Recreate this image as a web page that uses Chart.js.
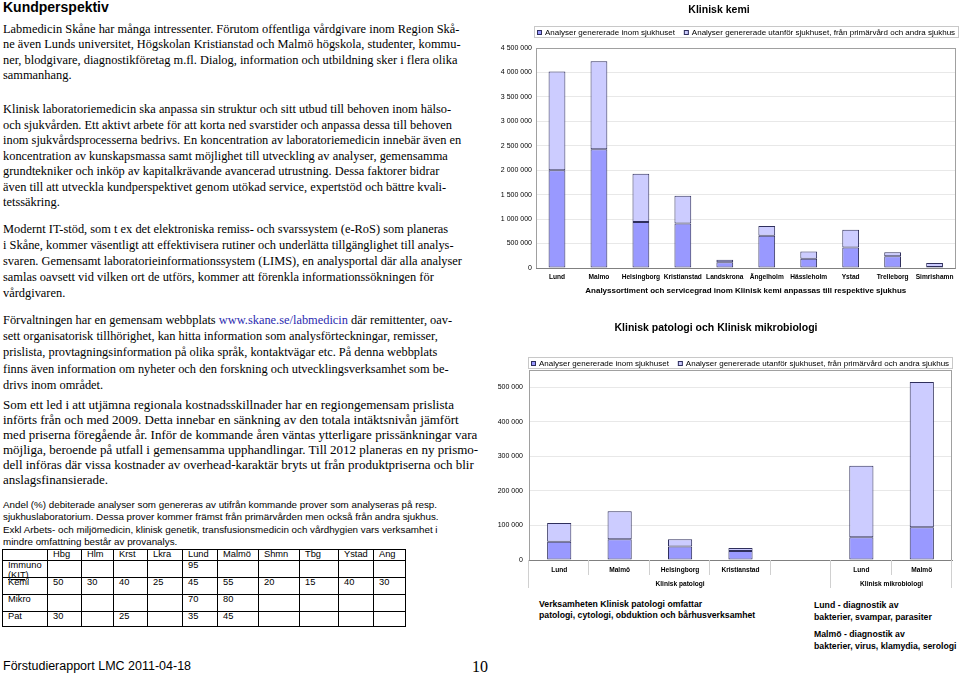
<!DOCTYPE html>
<html>
<head>
<meta charset="utf-8">
<script src="https://cdn.jsdelivr.net/npm/chart.js@4.4.1/dist/chart.umd.min.js"></script>
<style>
html, body { margin: 0; padding: 0; background: #fff; }
body { width: 959px; height: 673px; position: relative; overflow: hidden; color: #000; }
.ln { position: absolute; height: 20px; line-height: 20px; white-space: nowrap; }
.serif { font-family: "Liberation Serif", "Times New Roman", serif; font-size: 12.4px; }
.serif-big { font-family: "Liberation Serif", "Times New Roman", serif; font-size: 13px; }
.sans-small { font-family: "Liberation Sans", Arial, sans-serif; font-size: 9.8px; }
.note { font-family: "Liberation Sans", Arial, sans-serif; font-size: 8.7px; font-weight: bold; }
.link { color: #2b2bb0; }
h1 { position: absolute; left: 3px; top: 0; margin: 0; font: bold 14px "Liberation Sans", Arial, sans-serif; line-height: 15px; }
#tbl { position: absolute; left: 2px; top: 549px; border-collapse: collapse; table-layout: fixed; width: 403px;
  font-family: "Liberation Sans", Arial, sans-serif; font-size: 9.3px; }
#tbl td { border: 1px solid #000; padding: 0 0 0 5px; vertical-align: top; line-height: 9.5px; overflow: visible; white-space: nowrap; }
.cell { height: 0; overflow: visible; }
.box { position: absolute; }
#footer { position: absolute; left: 3px; top: 657px; font: 12.5px "Liberation Sans", Arial, sans-serif; line-height: 18px; }
#page { position: absolute; left: 472px; top: 657px; font: 16px "Liberation Serif", "Times New Roman", serif; line-height: 20px; }
</style>
</head>
<body>

<h1>Kundperspektiv</h1>

<div class="box" style="left:480px;top:0;width:479px;height:300px"><canvas id="kemi"></canvas></div>
<div class="box" style="left:480px;top:300px;width:479px;height:290px"><canvas id="patMikro"></canvas></div>

<table id="tbl">
  <colgroup>
    <col style="width:45px"><col style="width:34px"><col style="width:32px"><col style="width:34px">
    <col style="width:35px"><col style="width:35px"><col style="width:41px"><col style="width:41px">
    <col style="width:39px"><col style="width:35px"><col style="width:32px">
  </colgroup>
  <tbody id="tblBody"></tbody>
</table>

<div id="footer">Förstudierapport LMC 2011-04-18</div>
<div id="page">10</div>

<script>
// Klinisk kemi
const kemiHospitals = ['Lund', 'Malmo', 'Helsingborg', 'Kristianstad', 'Landskrona', 'Ängelholm', 'Hässleholm', 'Ystad', 'Trelleborg', 'Simrishamn'];
const kemiInside = [2000000, 2430000, 940000, 910000, 120000, 660000, 190000, 420000, 240000, 20000];
const kemiOutside = [2020000, 1800000, 990000, 570000, 50000, 200000, 150000, 360000, 80000, 80000];
const kemiMax = 4500000;
const kemiStep = 500000;

// Klinisk patologi och Klinisk mikrobiologi
const patMikroSites = ['Lund', 'Malmö', 'Helsingborg', 'Kristianstad', '', 'Lund', 'Malmö'];
const patMikroGroups = ['Klinisk patologi', 'Klinisk mikrobiologi'];
const patMikroGroupSizes = [5, 2];
const patMikroInside = [53000, 60000, 39000, 26000, null, 66000, 95000];
const patMikroOutside = [54000, 81000, 21000, 9000, null, 207000, 420000];
const patMikroMax = 550000;
const patMikroTicks = [0, 100000, 200000, 300000, 400000, 500000];

const legendInside = 'Analyser genererade inom sjukhuset';
const legendOutside = 'Analyser genererade utanför sjukhuset, från primärvård och andra sjukhus';

// tabell: andel (%) debiterade analyser
const tableCols = ['Hbg', 'Hlm', 'Krst', 'Lkra', 'Lund', 'Malmö', 'Shmn', 'Tbg', 'Ystad', 'Äng'];
const tableRows = ['Immuno (KIT)', 'Kemi', 'Mikro', 'Pat'];
const tableImmuno = ['', '', '', '', '95', '', '', '', '', ''];
const tableKemi = ['50', '30', '40', '25', '45', '55', '20', '15', '40', '30'];
const tableMikro = ['', '', '', '', '70', '80', '', '', '', ''];
const tablePat = ['30', '', '25', '', '35', '45', '', '', '', ''];

// textblock, rad för rad som i originalet
function placeLines(lines, left, firstCenter, step, cls) {
  lines.forEach((t, i) => {
    const d = document.createElement('div');
    d.className = 'ln ' + cls;
    d.style.left = left + 'px';
    d.style.top = (firstCenter + i * step - 10) + 'px';
    d.innerHTML = t;
    document.body.appendChild(d);
  });
}

placeLines([
  'Labmedicin Skåne har många intressenter. Förutom offentliga vårdgivare inom Region Skå-',
  'ne även Lunds universitet, Högskolan Kristianstad och Malmö högskola, studenter, kommu-',
  'ner, blodgivare, diagnostikföretag m.fl. Dialog, information och utbildning sker i flera olika',
  'sammanhang.'
], 3, 29, 15.4, 'serif');

placeLines([
  'Klinisk laboratoriemedicin ska anpassa sin struktur och sitt utbud till behoven inom hälso-',
  'och sjukvården. Ett aktivt arbete för att korta ned svarstider och anpassa dessa till behoven',
  'inom sjukvårdsprocesserna bedrivs. En koncentration av laboratoriemedicin innebär även en',
  'koncentration av kunskapsmassa samt möjlighet till utveckling av analyser, gemensamma',
  'grundtekniker och inköp av kapitalkrävande avancerad utrustning. Dessa faktorer bidrar',
  'även till att utveckla kundperspektivet genom utökad service, expertstöd och bättre kvali-',
  'tetssäkring.'
], 3, 109, 15.5, 'serif');

placeLines([
  'Modernt IT-stöd, som t ex det elektroniska remiss- och svarssystem (e-RoS) som planeras',
  'i Skåne, kommer väsentligt att effektivisera rutiner och underlätta tillgänglighet till analys-',
  'svaren. Gemensamt laboratorieinformationssystem (LIMS), en analysportal där alla analyser',
  'samlas oavsett vid vilken ort de utförs, kommer att förenkla informationssökningen för',
  'vårdgivaren.'
], 3, 229, 16, 'serif');

placeLines([
  'Förvaltningen har en gemensam webbplats <span class="link">www.skane.se/labmedicin</span> där remittenter, oav-',
  'sett organisatorisk tillhörighet, kan hitta information som analysförteckningar, remisser,',
  'prislista, provtagningsinformation på olika språk, kontaktvägar etc. På denna webbplats',
  'finns även information om nyheter och den forskning och utvecklingsverksamhet som be-',
  'drivs inom området.'
], 3, 320, 16.2, 'serif');

placeLines([
  'Som ett led i att utjämna regionala kostnadsskillnader har en regiongemensam prislista',
  'införts från och med 2009. Detta innebar en sänkning av den totala intäktsnivån jämfört',
  'med priserna föregående år. Inför de kommande åren väntas ytterligare prissänkningar vara',
  'möjliga, beroende på utfall i gemensamma upphandlingar. Till 2012 planeras en ny prismo-',
  'dell införas där vissa kostnader av overhead-karaktär bryts ut från produktpriserna och blir',
  'anslagsfinansierade.'
], 3, 405, 14.9, 'serif-big');

placeLines([
  'Andel (%) debiterade analyser som genereras av utifrån kommande prover som analyseras på resp.',
  'sjukhuslaboratorium. Dessa prover kommer främst från primärvården men också från andra sjukhus.',
  'Exkl Arbets- och miljömedicin, klinisk genetik, transfusionsmedicin och vårdhygien vars verksamhet i',
  'mindre omfattning består av provanalys.'
], 3, 505, 12.3, 'sans-small');

placeLines([
  'Verksamheten Klinisk patologi omfattar',
  'patologi, cytologi, obduktion och bårhusverksamhet'
], 539, 604, 11, 'note');

placeLines([
  'Lund - diagnostik av',
  'bakterier, svampar, parasiter'
], 814, 605, 11.5, 'note');

placeLines([
  'Malmö - diagnostik av',
  'bakterier, virus, klamydia, serologi'
], 814, 634, 12, 'note');

// tabellen
const tblBody = document.getElementById('tblBody');
const rowHeights = [11, 17, 17, 17, 15];
function addRow(cells, h) {
  const tr = document.createElement('tr');
  tr.style.height = h + 'px';
  cells.forEach(c => {
    const td = document.createElement('td');
    td.innerHTML = '<div class="cell">' + c + '</div>';
    tr.appendChild(td);
  });
  tblBody.appendChild(tr);
}
addRow([''].concat(tableCols), rowHeights[0]);
addRow(['Immuno<br><u>(KIT)</u>'].concat(tableImmuno), rowHeights[1]);
addRow([tableRows[1]].concat(tableKemi), rowHeights[2]);
addRow([tableRows[2]].concat(tableMikro), rowHeights[3]);
addRow([tableRows[3]].concat(tablePat), rowHeights[4]);

// diagrammen
const sans = '"Liberation Sans", Arial, sans-serif';
Chart.defaults.font.family = sans;
Chart.defaults.color = '#000';

function fmt(v) {
  return String(v).replace(/\B(?=(\d{3})+(?!\d))/g, ' ');
}

// legend med ram, centrerad över ritytan
const boxLegend = {
  id: 'boxLegend',
  afterDraw(chart, args, opts) {
    const {ctx, chartArea} = chart;
    ctx.save();
    ctx.font = '8px ' + sans;
    const box = 5, gap = 3, space = 9, pad = 3;
    const items = chart.data.datasets.map(ds => ({
      text: ds.label, fill: ds.backgroundColor, stroke: ds.borderColor,
      w: ctx.measureText(ds.label).width
    }));
    const total = items.reduce((s, it) => s + box + gap + it.w, 0) + space * (items.length - 1);
    let x = Math.round((chartArea.left + chartArea.right) / 2 - total / 2);
    const y = Math.round(chartArea.top - opts.offset);
    ctx.strokeStyle = '#c8c8c8';
    ctx.lineWidth = 1;
    ctx.strokeRect(x - pad + 0.5, y - 5.5, Math.round(total + 2 * pad), 11);
    ctx.textBaseline = 'middle';
    items.forEach(it => {
      ctx.fillStyle = it.fill;
      ctx.fillRect(x, y - 2, box, box);
      ctx.strokeStyle = it.stroke;
      ctx.strokeRect(x + 0.5, y - 2 + 0.5, box - 1, box - 1);
      ctx.fillStyle = '#000';
      ctx.fillText(it.text, x + box + gap, y + 0.5);
      x += box + gap + it.w + space;
    });
    ctx.restore();
  }
};

// ram runt ritytan
const plotFrame = {
  id: 'plotFrame',
  beforeDatasetsDraw(chart) {
    const {ctx, chartArea: a} = chart;
    ctx.save();
    ctx.strokeStyle = '#a0a0a0';
    ctx.lineWidth = 1;
    ctx.strokeRect(Math.round(a.left) + 0.5, Math.round(a.top) + 0.5, Math.round(a.right - a.left) - 1, Math.round(a.bottom - a.top));
    ctx.strokeStyle = '#808080';
    ctx.beginPath();
    ctx.moveTo(a.left, Math.round(a.bottom) + 0.5);
    ctx.lineTo(a.right, Math.round(a.bottom) + 0.5);
    ctx.stroke();
    ctx.restore();
  }
};

// avdelare och grupprubriker under x-axeln
const groupAxis = {
  id: 'groupAxis',
  afterDraw(chart) {
    const {ctx} = chart;
    const sx = chart.scales.x;
    const n = chart.data.labels.length;
    const edges = [];
    for (let i = 0; i <= n; i++) {
      if (i === 0) edges.push(sx.left);
      else if (i === n) edges.push(sx.right);
      else edges.push((sx.getPixelForValue(i - 1) + sx.getPixelForValue(i)) / 2);
    }
    const groupEdges = [0];
    patMikroGroupSizes.forEach(s => groupEdges.push(groupEdges[groupEdges.length - 1] + s));
    const top = sx.top;
    ctx.save();
    ctx.strokeStyle = '#d0d0d0';
    ctx.lineWidth = 1;
    edges.forEach((x, i) => {
      const long = groupEdges.includes(i);
      ctx.beginPath();
      ctx.moveTo(Math.round(x) - 0.5, top);
      ctx.lineTo(Math.round(x) - 0.5, top + (long ? 28 : 15));
      ctx.stroke();
    });
    ctx.fillStyle = '#000';
    ctx.font = 'bold 6.6px ' + sans;
    ctx.textAlign = 'center';
    ctx.textBaseline = 'middle';
    patMikroGroups.forEach((g, k) => {
      const x = (edges[groupEdges[k]] + edges[groupEdges[k + 1]]) / 2;
      ctx.fillText(g, x, top + 24);
    });
    ctx.restore();
  }
};

const barStyle = {
  borderColor: '#2f2f5c',
  borderWidth: 1,
  borderSkipped: false,
  barPercentage: 0.8,
  categoryPercentage: 0.5
};

new Chart(document.getElementById('kemi'), {
  type: 'bar',
  data: {
    labels: kemiHospitals,
    datasets: [
      Object.assign({label: legendInside, data: kemiInside, backgroundColor: '#9999ff'}, barStyle),
      Object.assign({label: legendOutside, data: kemiOutside, backgroundColor: '#ccccff'}, barStyle)
    ]
  },
  options: {
    responsive: true,
    maintainAspectRatio: false,
    animation: false,
    layout: {padding: {left: 0, right: 1, top: 0, bottom: 0}},
    plugins: {
      legend: {display: false},
      tooltip: {enabled: false},
      title: {
        display: true, text: 'Klinisk kemi', color: '#000',
        font: {size: 10.5, weight: 'bold'},
        padding: {top: 4, bottom: 31.4}
      },
      boxLegend: {offset: 15.7}
    },
    scales: {
      x: {
        stacked: true,
        grid: {display: false, drawTicks: false},
        border: {color: '#808080'},
        ticks: {font: {size: 6.6, weight: 'bold'}, padding: 5.5, autoSkip: false, maxRotation: 0},
        title: {
          display: true,
          text: 'Analyssortiment och servicegrad inom Klinisk kemi anpassas till respektive sjukhus',
          font: {size: 8, weight: 'bold'},
          padding: {top: 0, bottom: 4}
        },
        afterFit: s => { s.height = 32; }
      },
      y: {
        stacked: true,
        min: 0,
        max: kemiMax,
        ticks: {stepSize: kemiStep, callback: v => fmt(v), font: {size: 7}, padding: 4},
        grid: {color: '#e8e8e8', drawTicks: false},
        border: {color: '#a0a0a0'},
        afterFit: s => { s.width = 56; }
      }
    }
  },
  plugins: [boxLegend, plotFrame]
});

new Chart(document.getElementById('patMikro'), {
  type: 'bar',
  data: {
    labels: patMikroSites,
    datasets: [
      Object.assign({label: legendInside, data: patMikroInside, backgroundColor: '#9999ff'}, barStyle),
      Object.assign({label: legendOutside, data: patMikroOutside, backgroundColor: '#ccccff'}, barStyle)
    ]
  },
  options: {
    responsive: true,
    maintainAspectRatio: false,
    animation: false,
    layout: {padding: {left: 0, right: 7, top: 0, bottom: 0}},
    plugins: {
      legend: {display: false},
      tooltip: {enabled: false},
      title: {
        display: true, text: 'Klinisk patologi och Klinisk mikrobiologi', color: '#000',
        font: {size: 10.5, weight: 'bold'},
        padding: {top: 21.7, bottom: 35.7}
      },
      boxLegend: {offset: 7.3}
    },
    scales: {
      x: {
        stacked: true,
        grid: {display: false, drawTicks: false},
        border: {color: '#808080'},
        ticks: {font: {size: 6.6, weight: 'bold'}, padding: 6.3, autoSkip: false, maxRotation: 0},
        afterFit: s => { s.height = 30; }
      },
      y: {
        stacked: true,
        min: 0,
        max: patMikroMax,
        afterBuildTicks: s => { s.ticks = patMikroTicks.map(v => ({value: v})); },
        ticks: {callback: v => fmt(v), font: {size: 7}, padding: 6},
        grid: {color: '#e8e8e8', drawTicks: false},
        border: {color: '#a0a0a0'},
        afterFit: s => { s.width = 49; }
      }
    }
  },
  plugins: [boxLegend, plotFrame, groupAxis]
});
</script>
</body>
</html>
